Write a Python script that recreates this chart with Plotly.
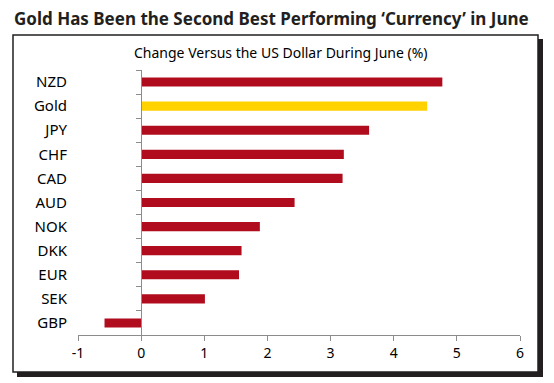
import plotly.graph_objects as go

# ---- data ----
categories = ["NZD", "Gold", "JPY", "CHF", "CAD", "AUD", "NOK", "DKK", "EUR", "SEK", "GBP"]
values = [4.77, 4.53, 3.61, 3.21, 3.19, 2.43, 1.88, 1.59, 1.55, 1.01, -0.58]
highlight = "Gold"
x_ticks = [-1, 0, 1, 2, 3, 4, 5, 6]
x_tick_labels = ["-1", "0", "1", "2", "3", "4", "5", "6"]

title_text = "Gold Has Been the Second Best Performing \u2018Currency\u2019 in June"
subtitle_text = "Change Versus the US Dollar During June (%)"
source_text = "Source: Bloomberg, CIBC"

# ---- layout constants (page has an 8px body margin) ----
OFF = 8
W, H = 554 - OFF, 383 - OFF
L, T = 78 - OFF, 70 - OFF
R = W - (520 - OFF)
B = H - (335 - OFF)
PW, PH = W - L - R, H - T - B
RED = "#B00C1E"
GOLD = "#FFD200"
AXIS = "#8C8C8C"
DARK = "#231F20"
FONT = "Noto Sans"


def px(x):
    """reference-window x pixel -> paper fraction"""
    return (x - OFF - L) / PW


def py(y):
    """reference-window y pixel -> paper fraction"""
    return (H - B - (y - OFF)) / PH


colors = [GOLD if c == highlight else RED for c in categories]

fig = go.Figure()
fig.add_trace(go.Bar(
    x=values, y=categories, orientation="h",
    marker=dict(color=colors, line=dict(width=0)),
    width=0.38, yaxis="y", hoverinfo="x+y",
))
# invisible helper trace for the zero-positioned category axis
fig.add_trace(go.Scatter(
    x=[0] * len(categories), y=categories, yaxis="y2",
    mode="markers", marker=dict(opacity=0), hoverinfo="skip", showlegend=False,
))

shapes = [
    # shadow
    dict(type="rect", xref="paper", yref="paper", layer="below",
         x0=px(17), x1=px(543), y0=py(377), y1=py(39),
         fillcolor=DARK, line=dict(width=0)),
    # frame
    dict(type="rect", xref="paper", yref="paper", layer="below",
         x0=px(13), x1=px(538), y0=py(372), y1=py(35),
         fillcolor="white", line=dict(color=DARK, width=1.5)),
]

annotations = [
    dict(text="<b>" + title_text + "</b>", xref="paper", yref="paper",
         x=px(12), y=py(18), xanchor="left", yanchor="middle", showarrow=False,
         font=dict(family=FONT, size=17, color=DARK)),
    dict(text=subtitle_text, xref="paper", yref="paper",
         x=px(281), y=py(52), xanchor="center", yanchor="middle", showarrow=False,
         font=dict(family=FONT, size=14, color="black")),
    dict(text=source_text, xref="paper", yref="paper",
         x=px(372), y=py(379), xanchor="left", yanchor="top", showarrow=False,
         font=dict(family=FONT, size=12, color=DARK)),
]

fig.update_layout(
    width=W, height=H,
    margin=dict(l=L, r=R, t=T, b=B, pad=0),
    paper_bgcolor="white", plot_bgcolor="rgba(0,0,0,0)",
    showlegend=False, bargap=0.6,
    font=dict(family=FONT, color="black", size=14),
    xaxis=dict(
        range=[x_ticks[0], x_ticks[-1]], tickvals=x_ticks, ticktext=x_tick_labels,
        showgrid=False, zeroline=False, showline=True, linecolor=AXIS, linewidth=1,
        ticks="outside", ticklen=5, tickcolor=AXIS, tickwidth=1,
        tickfont=dict(size=14, color="black"), fixedrange=True,
    ),
    yaxis=dict(
        type="category", categoryorder="array", categoryarray=categories,
        range=[len(categories) - 0.5, -0.5],
        showgrid=False, zeroline=False, showline=False, ticks="",
        ticklabelstandoff=10, tickfont=dict(size=15, color="black"), fixedrange=True,
    ),
    yaxis2=dict(
        type="category", categoryorder="array", categoryarray=categories,
        range=[len(categories) - 0.5, -0.5], overlaying="y", anchor="free",
        position=(0 - x_ticks[0]) / (x_ticks[-1] - x_ticks[0]),
        showgrid=False, zeroline=False, showline=True, linecolor=AXIS, linewidth=1,
        ticks="outside", tickson="boundaries", ticklen=5, tickcolor=AXIS,
        showticklabels=False, fixedrange=True,
    ),
    shapes=shapes, annotations=annotations,
)

fig.write_html("out.html")
